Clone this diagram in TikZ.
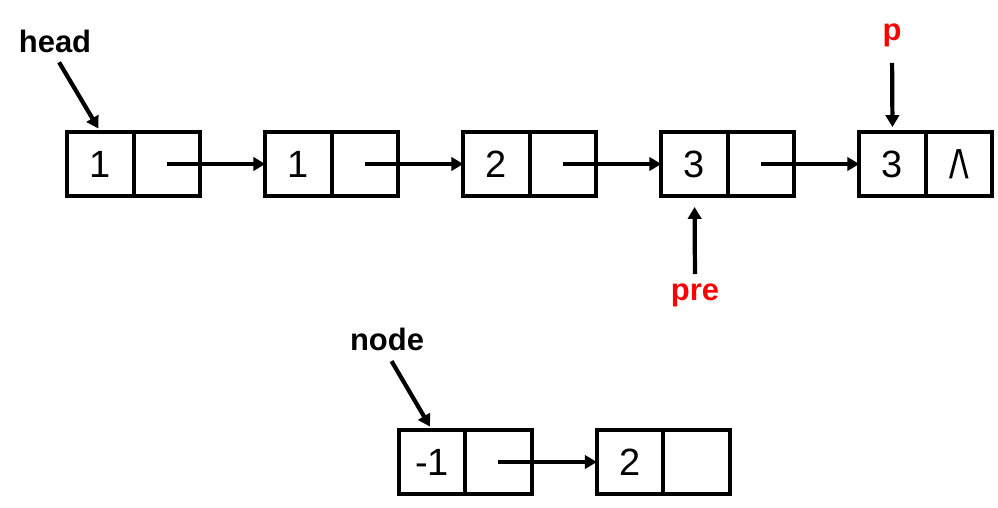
\documentclass[tikz,border=0pt]{standalone}
\usepackage{fontspec}
\setmainfont{Liberation Sans}
\usepackage{tikz}
\usetikzlibrary{positioning,arrows.meta}
\definecolor{ptrred}{RGB}{255,0,0}

\tikzset{
  cell/.style={draw, line width=2.7pt, minimum width=1.66cm, minimum height=1.6cm,
    inner sep=0pt, outer sep=0pt, font=\fontsize{27}{31}\selectfont},
  link/.style={line width=3pt, -{Triangle[length=8.5pt,width=9.5pt]}},
  tag/.style={font=\fontsize{22}{26}\selectfont\bfseries, inner sep=2pt, anchor=base},
}

\begin{document}
\begin{tikzpicture}[x=0.025cm, y=-0.025cm]
        \useasboundingbox (0,0) rectangle (998,507);

        % Lista principal
        \foreach \v/\w [count=\i] in {1/, 1/, 2/, 3/, 3/{\scalebox{1}[1.05]{/\kern-0.04em\textbackslash}}} {
            \node[cell] (d\i) at ({100.5+198*(\i-1)},164) {\v};
            \node[cell, right=0pt of d\i] (n\i) {\w};
        }
        \foreach \i [evaluate=\i as \j using int(\i+1)] in {1,...,4} {
            \draw[link] (n\i.center) -- (d\j.west);
        }

        % Nodo nuevo
        \node[cell] (e1) at (432,462) {-1};
        \node[cell, right=0pt of e1] (m1) {};
        \node[cell] (e2) at (630,462) {2};
        \node[cell, right=0pt of e2] (m2) {};
        \draw[link] (m1.center) -- (e2.west);

        % Punteros
        \node[tag] (head) at (55,52) {head};
        \node[tag, text=ptrred] (p) at (892,40.5) {p};
        \node[tag, text=ptrred] (pre) at (695,300) {pre};
        \node[tag] (newnode) at (387,350) {node};

        \draw[link, shorten <=5.7pt, shorten >=2.8pt] (head.south) -- (d1.north);
        \draw[link, shorten <=9.2pt, shorten >=3.5pt] (p.south) -- (d5.north);
        \draw[link, shorten <=4.3pt, shorten >=7.8pt] (pre.north) -- (d4.south);
        \draw[link, shorten <=6.4pt, shorten >=2.8pt] (newnode.south) -- (e1.north);
\end{tikzpicture}
\end{document}
